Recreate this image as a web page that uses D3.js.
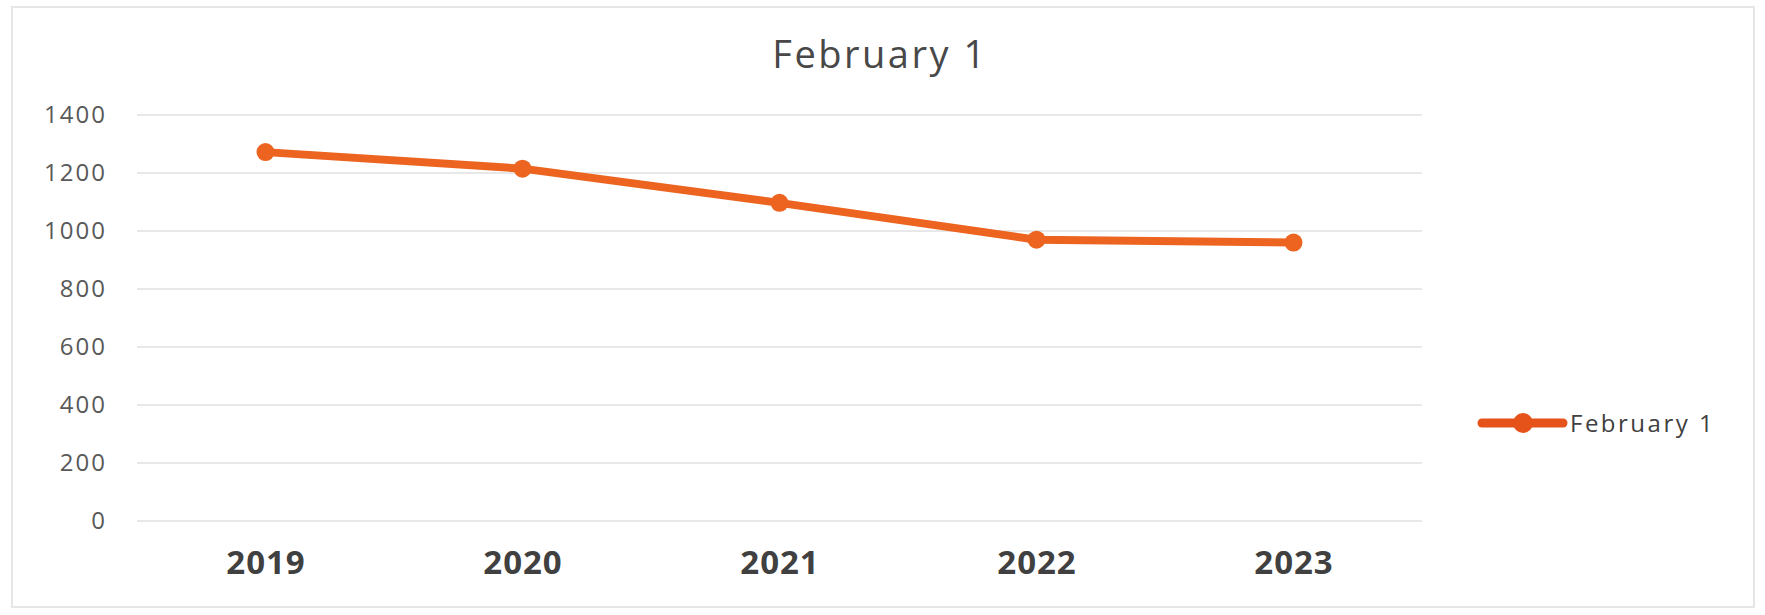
<!DOCTYPE html>
<html>
<head>
<meta charset="utf-8">
<script src="https://cdn.jsdelivr.net/npm/d3@7"></script>
<style>
  html, body { margin: 0; padding: 0; background: #fff; }
  svg { display: block; }
</style>
</head>
<body>
<script>
const categories = ["2019", "2020", "2021", "2022", "2023"];
const seriesName = "February 1";
const values = [1272, 1215, 1097, 970, 960];
const yTicks = [0, 200, 400, 600, 800, 1000, 1200, 1400];
const chartTitle = "February 1";

const W = 1765, H = 615;
const margin = { left: 137, right: W - 1422, top: 115, bottom: H - 521 };
const color = "#EC6420";

const svg = d3.select("body").append("svg").attr("width", W).attr("height", H);

// outer chart border
svg.append("rect")
  .attr("x", 12).attr("y", 7).attr("width", 1742).attr("height", 600)
  .attr("fill", "none").attr("stroke", "#e6e6e6").attr("stroke-width", 2);

const x = d3.scalePoint().domain(categories)
  .range([margin.left, W - margin.right]).padding(0.5);
const y = d3.scaleLinear().domain([0, 1400]).range([H - margin.bottom, margin.top]);

// gridlines
svg.append("g").selectAll("line").data(yTicks).join("line")
  .attr("x1", margin.left).attr("x2", W - margin.right)
  .attr("y1", d => y(d)).attr("y2", d => y(d))
  .attr("stroke", "#e8e8e8").attr("stroke-width", 2);

// y axis labels
const yAxis = d3.axisLeft(y).tickValues(yTicks).tickFormat(d3.format("d"))
  .tickSize(0).tickPadding(30);
const gy = svg.append("g").attr("transform", `translate(${margin.left},0)`).call(yAxis);
gy.select(".domain").remove();
gy.selectAll("text")
  .attr("font-family", "'Open Sans', sans-serif")
  .attr("font-size", 24).attr("fill", "#595959")
  .attr("letter-spacing", 2);

// x axis labels
const xAxis = d3.axisBottom(x).tickSize(0).tickPadding(30);
const gx = svg.append("g").attr("transform", `translate(0,${H - margin.bottom})`).call(xAxis);
gx.select(".domain").remove();
gx.selectAll("text")
  .attr("font-family", "'Open Sans', sans-serif")
  .attr("font-weight", "bold")
  .attr("font-size", 33).attr("fill", "#404040")
  .attr("letter-spacing", 1);

// line
const line = d3.line().x((d, i) => x(categories[i])).y(d => y(d));
svg.append("path").datum(values)
  .attr("d", line).attr("fill", "none")
  .attr("stroke", color).attr("stroke-width", 8)
  .attr("stroke-linejoin", "round").attr("stroke-linecap", "round");

svg.append("g").selectAll("circle").data(values).join("circle")
  .attr("cx", (d, i) => x(categories[i])).attr("cy", d => y(d))
  .attr("r", 9).attr("fill", color);

// title
svg.append("text")
  .attr("x", 880).attr("y", 68)
  .attr("text-anchor", "middle")
  .attr("font-family", "'Open Sans', sans-serif")
  .attr("font-size", 38).attr("fill", "#484848")
  .attr("letter-spacing", 2.5)
  .text(chartTitle);

// legend
const lg = svg.append("g");
lg.append("line").attr("x1", 1482).attr("x2", 1563).attr("y1", 423).attr("y2", 423)
  .attr("stroke", "#E5531A").attr("stroke-width", 9).attr("stroke-linecap", "round");
lg.append("circle").attr("cx", 1523).attr("cy", 423).attr("r", 10).attr("fill", "#E5531A");
lg.append("text").attr("x", 1570).attr("y", 432)
  .attr("font-family", "'Open Sans', sans-serif")
  .attr("font-size", 24).attr("fill", "#404040")
  .attr("letter-spacing", 2.5)
  .text(seriesName);
</script>
</body>
</html>
